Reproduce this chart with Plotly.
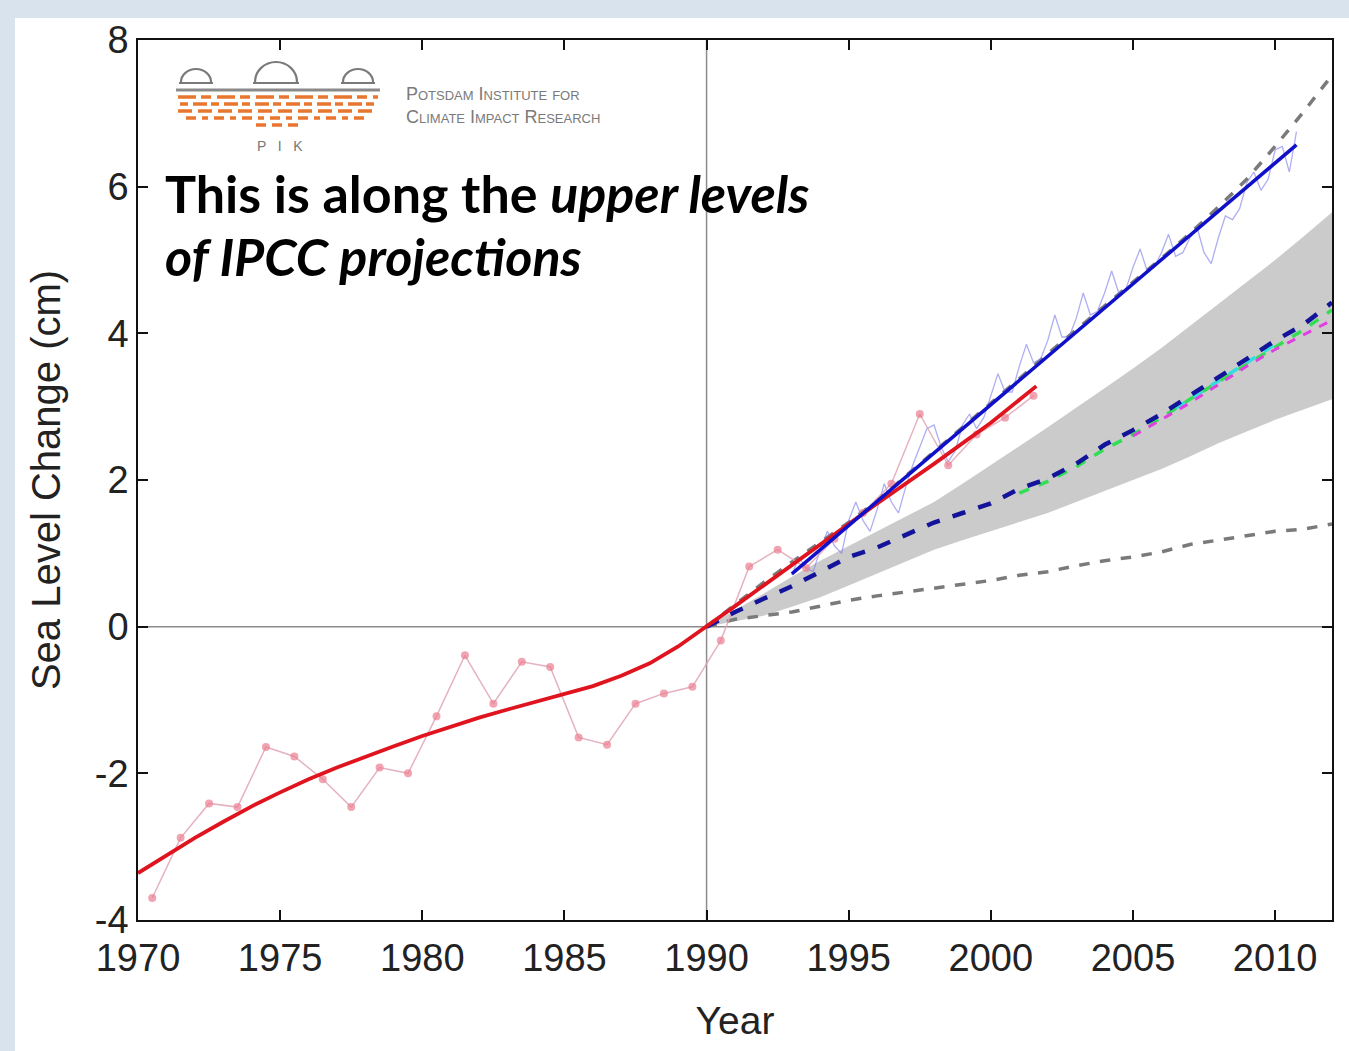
import plotly.graph_objects as go

# ---------------- data ----------------
tide_years = [1970.5, 1971.5, 1972.5, 1973.5, 1974.5, 1975.5, 1976.5, 1977.5, 1978.5, 1979.5,
              1980.5, 1981.5, 1982.5, 1983.5, 1984.5, 1985.5, 1986.5, 1987.5, 1988.5, 1989.5,
              1990.5, 1991.5, 1992.5, 1993.5, 1994.5, 1995.5, 1996.5, 1997.5, 1998.5, 1999.5,
              2000.5, 2001.5]
tide_vals = [-3.70, -2.88, -2.41, -2.46, -1.64, -1.77, -2.08, -2.46, -1.92, -2.00,
             -1.22, -0.39, -1.05, -0.48, -0.55, -1.51, -1.61, -1.05, -0.91, -0.82,
             -0.19, 0.82, 1.05, 0.80, 1.20, 1.55, 1.95, 2.90, 2.20, 2.62,
             2.85, 3.15]

smooth_years = [1970, 1971, 1972, 1973, 1974, 1975, 1976, 1977, 1978, 1979, 1980, 1981, 1982,
                1983, 1984, 1985, 1986, 1987, 1988, 1989, 1990, 1991, 1992, 1994, 1996, 1998,
                2000, 2001.6]
smooth_vals = [-3.36, -3.12, -2.88, -2.66, -2.45, -2.26, -2.08, -1.92, -1.77, -1.63, -1.49,
               -1.36, -1.24, -1.13, -1.02, -0.92, -0.81, -0.67, -0.50, -0.27, 0.00, 0.28,
               0.56, 1.12, 1.68, 2.22, 2.78, 3.28]

sat_years = [1993.00, 1993.25, 1993.50, 1993.75, 1994.00, 1994.25, 1994.50, 1994.75,
             1995.00, 1995.25, 1995.50, 1995.75, 1996.00, 1996.25, 1996.50, 1996.75,
             1997.00, 1997.25, 1997.50, 1997.75, 1998.00, 1998.25, 1998.50, 1998.75,
             1999.00, 1999.25, 1999.50, 1999.75, 2000.00, 2000.25, 2000.50, 2000.75,
             2001.00, 2001.25, 2001.50, 2001.75, 2002.00, 2002.25, 2002.50, 2002.75,
             2003.00, 2003.25, 2003.50, 2003.75, 2004.00, 2004.25, 2004.50, 2004.75,
             2005.00, 2005.25, 2005.50, 2005.75, 2006.00, 2006.25, 2006.50, 2006.75,
             2007.00, 2007.25, 2007.50, 2007.75, 2008.00, 2008.25, 2008.50, 2008.75,
             2009.00, 2009.25, 2009.50, 2009.75, 2010.00, 2010.25, 2010.50, 2010.75]
sat_vals = [0.70, 0.95, 0.80, 0.75, 1.05, 1.30, 1.10, 1.00,
            1.45, 1.70, 1.45, 1.30, 1.60, 1.95, 1.70, 1.55,
            1.90, 2.20, 2.45, 2.70, 2.75, 2.45, 2.25, 2.40,
            2.75, 2.90, 2.70, 2.85, 3.15, 3.45, 3.20, 3.20,
            3.55, 3.85, 3.60, 3.65, 3.90, 4.25, 3.95, 3.95,
            4.20, 4.55, 4.25, 4.30, 4.55, 4.85, 4.55, 4.60,
            4.90, 5.15, 4.85, 4.90, 5.10, 5.35, 5.05, 5.10,
            5.30, 5.45, 5.10, 4.95, 5.30, 5.60, 5.55, 5.70,
            6.05, 6.20, 5.95, 6.10, 6.50, 6.55, 6.20, 6.75]

sat_trend_years = [1993.0, 2010.75]
sat_trend_vals = [0.72, 6.57]

proj_years = [1990, 1991, 1992, 1993, 1994, 1995, 1996, 1997, 1998, 1999, 2000, 2001,
              2002, 2003, 2004, 2005, 2006, 2007, 2008, 2009, 2010, 2011, 2012]
upper_full = [0.00, 0.30, 0.60, 0.88, 1.15, 1.42, 1.72, 2.05, 2.38, 2.72, 3.05, 3.38,
              3.72, 4.05, 4.38, 4.70, 5.02, 5.36, 5.72, 6.10, 6.55, 7.02, 7.52]
lower_full = [0.00, 0.10, 0.15, 0.20, 0.28, 0.36, 0.42, 0.47, 0.53, 0.58, 0.63, 0.70,
              0.75, 0.83, 0.90, 0.95, 1.02, 1.12, 1.18, 1.24, 1.30, 1.33, 1.40]
band_upper = [0.00, 0.22, 0.45, 0.68, 0.90, 1.10, 1.30, 1.50, 1.70, 1.95, 2.20, 2.46,
              2.72, 2.98, 3.25, 3.52, 3.80, 4.10, 4.40, 4.70, 5.00, 5.32, 5.65]
band_lower = [0.00, 0.07, 0.15, 0.27, 0.40, 0.56, 0.72, 0.88, 1.05, 1.18, 1.30, 1.42,
              1.55, 1.70, 1.85, 2.00, 2.15, 2.32, 2.50, 2.66, 2.82, 2.96, 3.10]
central = [0.00, 0.20, 0.38, 0.55, 0.75, 0.95, 1.08, 1.25, 1.42, 1.55, 1.68, 1.88,
           2.02, 2.22, 2.48, 2.68, 2.90, 3.15, 3.40, 3.65, 3.90, 4.12, 4.42]

green_years = [2001, 2002, 2003, 2004, 2005, 2006, 2007, 2008, 2009, 2010, 2011, 2012]
green_vals = [1.82, 1.98, 2.18, 2.42, 2.62, 2.85, 3.10, 3.34, 3.58, 3.82, 4.05, 4.32]
cyan_years = [2006.5, 2007, 2008, 2009, 2010]
cyan_vals = [2.98, 3.10, 3.35, 3.60, 3.85]
magenta_years = [2005, 2006, 2007, 2008, 2009, 2010, 2011, 2012]
magenta_vals = [2.60, 2.82, 3.05, 3.30, 3.55, 3.78, 3.98, 4.18]

x_ticks = [1970, 1975, 1980, 1985, 1990, 1995, 2000, 2005, 2010]
y_ticks = [-4, -2, 0, 2, 4, 6, 8]

# ---------------- figure ----------------
W, H = 1349, 1051
L, R, T, B = 138, 17, 40, 131
PW, PH = W - L - R, H - T - B


def px(x):
    return (x - L) / PW


def py(y):
    return (H - B - y) / PH


fig = go.Figure()

# shaded model range
fig.add_trace(go.Scatter(x=proj_years, y=band_lower, mode="lines", line=dict(width=0),
                         showlegend=False, hoverinfo="skip"))
fig.add_trace(go.Scatter(x=proj_years, y=band_upper, mode="lines", line=dict(width=0),
                         fill="tonexty", fillcolor="rgba(192,192,192,0.82)",
                         showlegend=False, hoverinfo="skip"))

# full range dashed gray
fig.add_trace(go.Scatter(x=proj_years, y=upper_full, mode="lines",
                         line=dict(color="#7a7a7a", width=3.5, dash="dash"), showlegend=False))
fig.add_trace(go.Scatter(x=proj_years, y=lower_full, mode="lines",
                         line=dict(color="#7a7a7a", width=3.5, dash="dash"), showlegend=False))

# satellite data
fig.add_trace(go.Scatter(x=sat_years, y=sat_vals, mode="lines",
                         line=dict(color="rgba(120,120,235,0.6)", width=1.3), showlegend=False))

# tide gauge annual data
fig.add_trace(go.Scatter(x=tide_years, y=tide_vals, mode="lines+markers",
                         line=dict(color="rgba(225,165,180,0.85)", width=1.5),
                         marker=dict(color="rgba(235,125,145,0.7)", size=8, symbol="circle"),
                         showlegend=False))

# scenario dashed lines
fig.add_trace(go.Scatter(x=green_years, y=green_vals, mode="lines",
                         line=dict(color="#33dd55", width=3.5, dash="dash"), showlegend=False))
fig.add_trace(go.Scatter(x=cyan_years, y=cyan_vals, mode="lines",
                         line=dict(color="#33dddd", width=3.5, dash="dash"), showlegend=False))
fig.add_trace(go.Scatter(x=magenta_years, y=magenta_vals, mode="lines",
                         line=dict(color="#e040e0", width=3, dash="dash"), showlegend=False))
fig.add_trace(go.Scatter(x=proj_years, y=central, mode="lines",
                         line=dict(color="#14149a", width=4.5, dash="dash"), showlegend=False))

# smoothed tide gauge
fig.add_trace(go.Scatter(x=smooth_years, y=smooth_vals, mode="lines",
                         line=dict(color="#e0141e", width=3.8), showlegend=False))
# satellite trend
fig.add_trace(go.Scatter(x=sat_trend_years, y=sat_trend_vals, mode="lines",
                         line=dict(color="#1010c8", width=3.5), showlegend=False))

shapes = []
# slide frame: white panel over light-blue background
shapes.append(dict(type="rect", xref="paper", yref="paper", layer="below",
                   x0=px(15), x1=px(W + 5), y0=py(18), y1=py(H + 5),
                   fillcolor="white", line=dict(width=0)))
# reference lines at 1990 and 0
shapes.append(dict(type="line", xref="x", yref="paper", x0=1990, x1=1990, y0=0, y1=1,
                   line=dict(color="#8c8c8c", width=1.5), layer="below"))
shapes.append(dict(type="line", xref="paper", yref="y", x0=0, x1=1, y0=0, y1=0,
                   line=dict(color="#8c8c8c", width=1.5), layer="below"))

# PIK logo (decoration)
k = 0.5523


def dome(cx, by, r, rh):
    p = (f"M {px(cx - r)},{py(by)} "
         f"C {px(cx - r)},{py(by - k * rh)} {px(cx - k * r)},{py(by - rh)} {px(cx)},{py(by - rh)} "
         f"C {px(cx + k * r)},{py(by - rh)} {px(cx + r)},{py(by - k * rh)} {px(cx + r)},{py(by)}")
    return dict(type="path", xref="paper", yref="paper", path=p,
                line=dict(color="#7a7a7a", width=2.2))


for cx, r, rh in [(196, 15, 13), (276, 21, 20), (358, 15, 13)]:
    shapes.append(dome(cx, 82, r, rh))
    shapes.append(dict(type="line", xref="paper", yref="paper", x0=px(cx - r - 2), x1=px(cx + r + 2),
                       y0=py(83), y1=py(83), line=dict(color="#7a7a7a", width=2)))
shapes.append(dict(type="line", xref="paper", yref="paper", x0=px(176), x1=px(380),
                   y0=py(90), y1=py(90), line=dict(color="#8a8a8a", width=3)))
for yy, xa, xb, dsh in [(97, 178, 378, "18px,5px,10px,6px"),
                        (104, 180, 376, "8px,5px,14px,4px"),
                        (111, 178, 378, "14px,6px"),
                        (118, 186, 370, "10px,6px,6px,6px"),
                        (125, 256, 300, "10px,6px")]:
    shapes.append(dict(type="line", xref="paper", yref="paper", x0=px(xa), x1=px(xb),
                       y0=py(yy), y1=py(yy), line=dict(color="#e8762e", width=3.5, dash=dsh)))

annotations = []
annotations.append(dict(xref="paper", yref="paper", x=px(280), y=py(146), text="P   I   K",
                        showarrow=False, font=dict(family="Liberation Sans", size=14, color="#777777"),
                        xanchor="center", yanchor="middle"))
annotations.append(dict(xref="paper", yref="paper", x=px(404), y=py(106),
                        text="Potsdam Institute for<br>Climate Impact Research",
                        showarrow=False, align="left", xanchor="left", yanchor="middle",
                        font=dict(family="Liberation Sans", size=18, color="#7a7a7a",
                                  variant="small-caps")))
annotations.append(dict(xref="paper", yref="paper", x=px(163), y=py(193),
                        text="<b>This is along the <i>upper levels</i></b>",
                        showarrow=False, align="left", xanchor="left", yanchor="middle",
                        font=dict(family="Lato", size=52, color="#000000")))
annotations.append(dict(xref="paper", yref="paper", x=px(163), y=py(256),
                        text="<b><i>of IPCC projections</i></b>",
                        showarrow=False, align="left", xanchor="left", yanchor="middle",
                        font=dict(family="Lato", size=52, color="#000000")))

fig.update_layout(
    width=W, height=H,
    margin=dict(l=L, r=R, t=T, b=B, pad=0),
    paper_bgcolor="#d9e3ee",
    plot_bgcolor="rgba(0,0,0,0)",
    font=dict(family="Liberation Sans", color="#222222"),
    shapes=shapes,
    annotations=annotations,
    showlegend=False,
)
fig.update_xaxes(range=[1970, 2012], tickvals=x_ticks, ticktext=[str(v) for v in x_ticks],
                 showgrid=False, zeroline=False, showline=True, linecolor="#111111", linewidth=1.5,
                 mirror="ticks", ticks="inside", ticklen=10, tickwidth=1.5, tickcolor="#111111",
                 tickfont=dict(size=38, color="#222222"), ticklabelstandoff=4,
                 title=dict(text="Year", font=dict(size=39, color="#222222"), standoff=28))
fig.update_yaxes(range=[-4, 8], tickvals=y_ticks, ticktext=[str(v) for v in y_ticks],
                 showgrid=False, zeroline=False, showline=True, linecolor="#111111", linewidth=1.5,
                 mirror="ticks", ticks="inside", ticklen=10, tickwidth=1.5, tickcolor="#111111",
                 tickfont=dict(size=38, color="#222222"),
                 title=dict(text="Sea Level Change (cm)", font=dict(size=40, color="#222222"), standoff=22))

fig.write_html("out.html", config={"displayModeBar": False},
               post_script="document.body.style.margin='0';document.body.style.overflow='hidden';")
